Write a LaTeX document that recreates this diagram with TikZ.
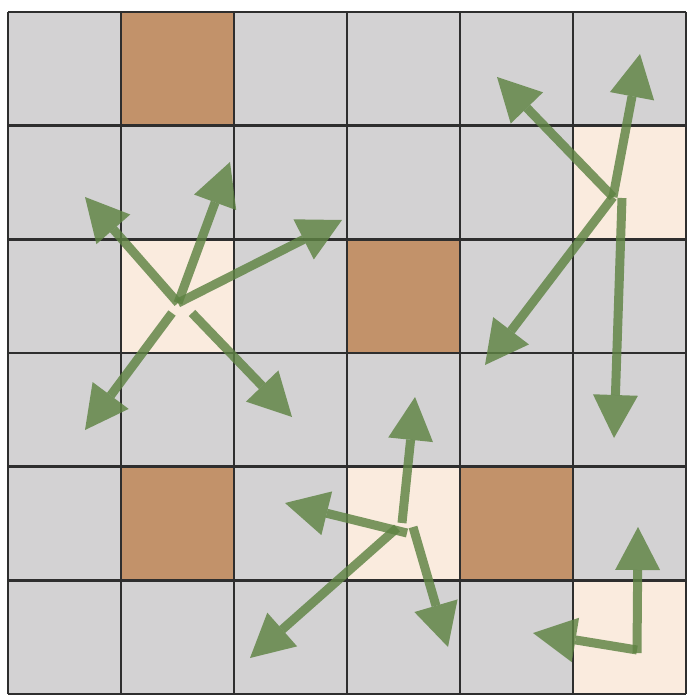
\documentclass[tikz,border=0pt]{standalone}
\usetikzlibrary{arrows.meta}
\definecolor{cellgray}{HTML}{D3D2D3}
\definecolor{cellbrown}{HTML}{C2926A}
\definecolor{cellcream}{HTML}{FAEBDE}
\definecolor{arrowgreen}{HTML}{5E8343}
\definecolor{gridcol}{HTML}{2E2E2E}
\begin{document}
\begin{tikzpicture}[x=1pt,y=-1pt,
  mv/.style={draw=arrowgreen, line width=9pt, opacity=0.82, transparency group,
    -{Triangle[length=43pt,width=45pt,line width=0pt,fill=arrowgreen]}},
  gridline/.style={draw=gridcol, line width=2.5pt},
  brownc/.style={fill=cellbrown},
  creamc/.style={fill=cellcream}]
\useasboundingbox (0,0) rectangle (694,700);
\fill[white] (0,0) rectangle (694,700);
\fill[cellgray] (8,12) rectangle (686,694);
% brown cells (col,row)
\foreach \c/\r in {1/0,3/2,1/4,4/4}
  \fill[brownc] ({8+113*\c},{12+113.67*\r}) rectangle ++(113,113.67);
% cream cells
\foreach \c/\r in {5/1,1/2,3/4,5/5}
  \fill[creamc] ({8+113*\c},{12+113.67*\r}) rectangle ++(113,113.67);
% grid
\foreach \i in {0,...,6} {
  \draw[gridline] ({8+113*\i},12) -- ({8+113*\i},694);
  \draw[gridline] (8,{12+113.67*\i}) -- (686,{12+113.67*\i});
}
% group 1
\coordinate (a0) at (178,303);
\coordinate (a1) at (172,313);
\coordinate (a2) at (192,313);
\coordinate (a3) at (85,197);
\coordinate (a4) at (230,162);
\coordinate (a5) at (342,220);
\coordinate (a6) at (85,430);
\coordinate (a7) at (292,417);
\draw[mv] (a0) -- (a3);
\draw[mv] (a0) -- (a4);
\draw[mv] (a0) -- (a5);
\draw[mv] (a1) -- (a6);
\draw[mv] (a2) -- (a7);
% group 2
\coordinate (b0) at (613,197);
\coordinate (b1) at (622,198);
\coordinate (b2) at (497,77);
\coordinate (b3) at (640,54);
\coordinate (b4) at (485,365);
\coordinate (b5) at (614,438);
\draw[mv] (b0) -- (b2);
\draw[mv] (b0) -- (b3);
\draw[mv] (b0) -- (b4);
\draw[mv] (b1) -- (b5);
% group 3
\coordinate (c1) at (402,523);
\coordinate (c2) at (407,533);
\coordinate (c3) at (397,528);
\coordinate (c4) at (413,527);
\coordinate (c5) at (415,397);
\coordinate (c6) at (285,503);
\coordinate (c7) at (250,658);
\coordinate (c8) at (448,647);
\draw[mv] (c1) -- (c5);
\draw[mv] (c2) -- (c6);
\draw[mv] (c3) -- (c7);
\draw[mv] (c4) -- (c8);
% group 4
\coordinate (d0) at (637,653);
\coordinate (d1) at (637,650);
\coordinate (d2) at (638,527);
\coordinate (d3) at (533,633);
\draw[mv] (d0) -- (d2);
\draw[mv] (d1) -- (d3);
\end{tikzpicture}
\end{document}
